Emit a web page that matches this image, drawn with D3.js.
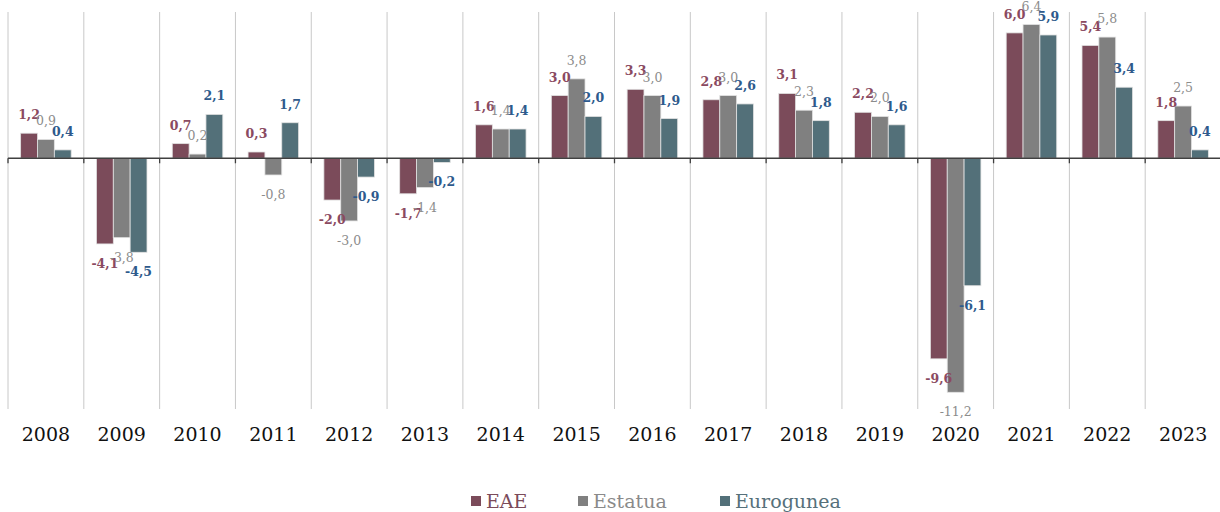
<!DOCTYPE html>
<html><head><meta charset="utf-8">
<script src="https://cdn.jsdelivr.net/npm/d3@7"></script>
<style>
html,body{margin:0;padding:0;background:#fff;}
svg{display:block;}
</style></head>
<body>
<svg id="chart" width="1220" height="512"></svg>
<script>
const years = ["2008","2009","2010","2011","2012","2013","2014","2015","2016","2017","2018","2019","2020","2021","2022","2023"];
const seriesNames = ["EAE","Estatua","Eurogunea"];
const eae = [1.2,-4.1,0.7,0.3,-2.0,-1.7,1.6,3.0,3.3,2.8,3.1,2.2,-9.6,6.0,5.4,1.8];
const estatua = [0.9,-3.8,0.2,-0.8,-3.0,-1.4,1.4,3.8,3.0,3.0,2.3,2.0,-11.2,6.4,5.8,2.5];
const eurogunea = [0.4,-4.5,2.1,1.7,-0.9,-0.2,1.4,2.0,1.9,2.6,1.8,1.6,-6.1,5.9,3.4,0.4];
const yDomain = [-12, 7];

const seriesValues = [eae, estatua, eurogunea];
const barColors = ["#7b4b5a","#808080","#537079"];
const labelColors = ["#8a4a61","#8c8c8c","#2e5a8c"];
const labelWeights = ["bold","normal","bold"];
const legendColors = ["#7b4b5a","#8a8a8a","#56707a"];
const FONT = "'DejaVu Serif', serif";

const svg = d3.select("#chart");
const x0 = d3.scaleBand().domain(years).range([8, 1221]).paddingInner(0).paddingOuter(0);
const x1 = d3.scaleBand().domain(seriesNames).range([0, x0.bandwidth()]).paddingInner(0).paddingOuter(0.75);
const y = d3.scaleLinear().domain(yDomain).range([409, 12]);
const fmt = v => d3.format(".1f")(v).replace(".", ",").replace("\u2212", "-");

// vertical grid lines at category boundaries
const bounds = years.map(d => x0(d)).concat([x0(years[years.length-1]) + x0.bandwidth()]);
svg.append("g").selectAll("line").data(bounds).join("line")
  .attr("x1", d => d).attr("x2", d => d)
  .attr("y1", y(yDomain[1])).attr("y2", y(yDomain[0]))
  .attr("stroke", "#c8c8c8").attr("stroke-width", 1);

// bars
const data = [];
years.forEach((yr, i) => seriesNames.forEach((s, j) => data.push({yr, s, j, v: seriesValues[j][i]})));
svg.append("g").selectAll("rect").data(data).join("rect")
  .attr("x", d => x0(d.yr) + x1(d.s))
  .attr("width", x1.bandwidth())
  .attr("y", d => y(Math.max(0, d.v)))
  .attr("height", d => Math.abs(y(d.v) - y(0)))
  .attr("fill", d => barColors[d.j])
  .attr("stroke", "#e2e2e2").attr("stroke-width", 0.8);

// zero axis
const gAxis = svg.append("g").attr("transform", `translate(0,${y(0)})`);
gAxis.append("line").attr("x1", 8).attr("x2", 1220).attr("y1", 0).attr("y2", 0)
  .attr("stroke", "#404040").attr("stroke-width", 1.3);
gAxis.selectAll("line.tick").data(bounds).join("line").attr("class","tick")
  .attr("x1", d => d).attr("x2", d => d).attr("y1", 0).attr("y2", 5)
  .attr("stroke", "#404040").attr("stroke-width", 1.3);

// data labels
svg.append("g").selectAll("text").data(data).join("text")
  .attr("x", d => x0(d.yr) + x1(d.s) + x1.bandwidth()/2)
  .attr("y", d => d.v >= 0 ? y(d.v) - 18.5 : y(d.v) + 19.5)
  .attr("text-anchor", "middle").attr("dominant-baseline", "central")
  .attr("font-family", FONT).attr("font-size", 12.5)
  .attr("font-weight", d => labelWeights[d.j])
  .attr("fill", d => labelColors[d.j])
  .text(d => fmt(d.v));

// category labels
svg.append("g").selectAll("text").data(years).join("text")
  .attr("x", d => x0(d) + x0.bandwidth()/2)
  .attr("y", 434)
  .attr("text-anchor", "middle").attr("dominant-baseline", "central")
  .attr("font-family", FONT).attr("font-size", 19)
  .attr("fill", "#111")
  .text(d => d);

// legend
const legendX = [471, 578, 720];
const lg = svg.append("g").selectAll("g").data(seriesNames).join("g")
  .attr("transform", (d, i) => `translate(${legendX[i]},501)`);
lg.append("rect").attr("x", 0).attr("y", -5).attr("width", 10).attr("height", 10)
  .attr("fill", (d, i) => barColors[i]);
lg.append("text").attr("x", 15).attr("y", 0).attr("dominant-baseline", "central")
  .attr("font-family", FONT).attr("font-size", 19)
  .attr("fill", (d, i) => legendColors[i])
  .text(d => d);
</script>
</body></html>
